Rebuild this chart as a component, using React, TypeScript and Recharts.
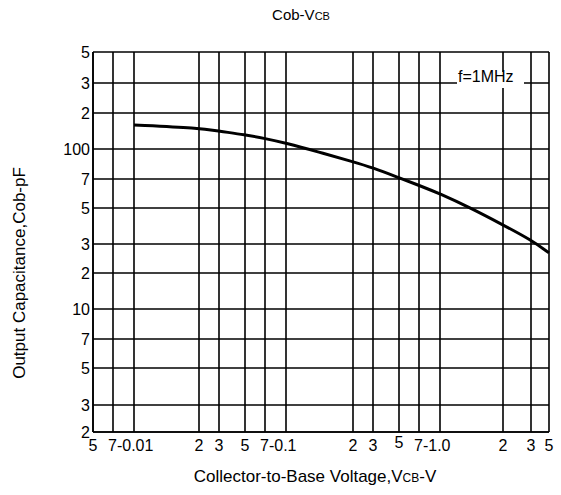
import React from 'react';
import {
  LineChart,
  Line,
  XAxis,
  YAxis,
  CartesianGrid,
  ReferenceDot,
} from 'recharts';

// curve (V, pF)
const vcb = [0.01, 0.02, 0.03, 0.05, 0.07, 0.1, 0.14, 0.2, 0.3, 0.5, 0.7, 1.0, 1.4, 2, 3, 5];
const cob = [159, 150, 141, 131.5, 122.5, 112, 96.5, 86, 80, 71, 65, 59, 50, 39.3, 31.8, 26.5];

// grid lines of the chart paper
const xTicks = [0.005, 0.007, 0.01, 0.02, 0.03, 0.05, 0.07, 0.1, 0.2, 0.3, 0.5, 0.7, 1, 2, 3, 5];
const xTickLabels = ['5', '7-0.01', '', '2', '3', '5', '7-0.1', '', '2', '3', '5', '7-1.0', '', '2', '3', '5'];
const yTicks = [2, 3, 5, 7, 10, 20, 30, 50, 70, 100, 200, 300, 500];
const yTickLabels = ['2', '3', '5', '7', '10', '2', '3', '5', '7', '100', '2', '3', '5'];

// the printed paper is not a true log grid, so each grid line has its own spot
const X_PAPER = [0, 20, 41, 106, 126, 152, 172, 193, 260, 280, 306, 326, 347, 410, 438, 456];
const Y_PAPER = [0, 27, 64, 93, 123, 159, 188, 224, 253, 283, 319, 349, 380];

const paper = (v: number, ticks: number[], pos: number[]) => {
  for (let i = 0; i < ticks.length - 1; i++) {
    if (v >= ticks[i] && v <= ticks[i + 1]) {
      const t = (Math.log10(v) - Math.log10(ticks[i])) / (Math.log10(ticks[i + 1]) - Math.log10(ticks[i]));
      return pos[i] + t * (pos[i + 1] - pos[i]);
    }
  }
  return v < ticks[0] ? pos[0] : pos[pos.length - 1];
};
const px = (v: number) => paper(v, xTicks, X_PAPER);
const py = (v: number) => paper(v, yTicks, Y_PAPER);

const data = vcb.map((v, i) => ({ x: px(v), y: py(cob[i]) }));

const FONT = '"Liberation Sans", Arial, sans-serif';

const XTick = (props: any) => {
  const { x, y, index } = props;
  const label = xTickLabels[index];
  if (!label) return null;
  const seven = label.startsWith('7');
  return (
    <text
      x={seven ? x - 5 : x}
      y={y + 17 + (index === 10 ? -3 : 0)}
      textAnchor={seven ? 'start' : 'middle'}
      fontSize={16}
      fontFamily={FONT}
      fill="#000"
    >
      {label}
    </text>
  );
};

const YTick = (props: any) => {
  const { x, y, index } = props;
  return (
    <text x={x - 1} y={y + 6} textAnchor="end" fontSize={16} fontFamily={FONT} fill="#000">
      {yTickLabels[index]}
    </text>
  );
};

const FreqNote = (props: any) => {
  const { cx, cy } = props;
  return (
    <g>
      <rect x={cx - 46} y={cy - 11} width={67} height={16} fill="#fff" />
      <text x={cx - 45} y={cy - 1} fontSize={16} fontFamily={FONT} fill="#000">
        f=1MHz
      </text>
    </g>
  );
};

const App = () => {
  return (
    <div style={{ position: 'absolute', left: 0, top: 0, width: 561, height: 495, background: '#fff' }}>
      <LineChart
        width={561}
        height={495}
        data={data}
        margin={{ top: 52, right: 12, bottom: 0, left: 0 }}
      >
        <CartesianGrid stroke="#000" strokeWidth={1.6} />
        <XAxis
          dataKey="x"
          type="number"
          domain={[0, 456]}
          ticks={X_PAPER}
          height={63}
          tickSize={0}
          tickLine={false}
          axisLine={{ stroke: '#000', strokeWidth: 1.6 }}
          tick={<XTick />}
          interval={0}
        />
        <YAxis
          dataKey="y"
          type="number"
          domain={[0, 380]}
          ticks={Y_PAPER}
          width={93}
          tickSize={0}
          tickLine={false}
          axisLine={{ stroke: '#000', strokeWidth: 1.6 }}
          tick={<YTick />}
          interval={0}
        />
        <ReferenceDot x={px(2)} y={py(300)} r={0} shape={<FreqNote />} />
        <Line
          dataKey="y"
          type="basis"
          stroke="#000"
          strokeWidth={3}
          dot={false}
          isAnimationActive={false}
        />
      </LineChart>
      <div
        style={{
          position: 'absolute', left: 0, width: 602, top: 6, textAlign: 'center',
          fontFamily: FONT, fontSize: 15, color: '#000',
        }}
      >
        Cob-V<span style={{ fontSize: 11 }}>CB</span>
      </div>
      <div
        style={{
          position: 'absolute', left: 0, width: 630, top: 467, textAlign: 'center',
          fontFamily: FONT, fontSize: 17, color: '#000',
        }}
      >
        Collector-to-Base Voltage,V<span style={{ fontSize: 12 }}>CB</span>-V
      </div>
      <div
        style={{
          position: 'absolute', left: 20, top: 273, width: 0, height: 0,
        }}
      >
        <div
          style={{
            position: 'absolute', transform: 'translate(-50%, -50%) rotate(-90deg)',
            whiteSpace: 'nowrap', fontFamily: FONT, fontSize: 17, color: '#000',
          }}
        >
          Output Capacitance,Cob-pF
        </div>
      </div>
    </div>
  );
};

export default App;
